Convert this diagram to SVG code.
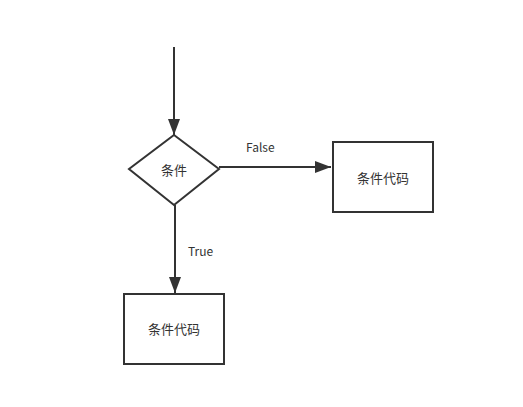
<svg xmlns="http://www.w3.org/2000/svg" width="523" height="407" viewBox="0 0 523 407">
<style>
.shape{fill:#fff;stroke:#333;stroke-width:2}
.edge{fill:none;stroke:#333;stroke-width:2;marker-end:url(#arr)}
text{font-family:"Noto Sans CJK SC","Liberation Sans",sans-serif;font-size:12px;fill:#333}
.c{text-anchor:middle;dominant-baseline:central;font-size:13px}
</style>
<defs>
<marker id="arr" markerWidth="16" markerHeight="12" refX="16" refY="6" orient="auto" markerUnits="userSpaceOnUse" viewBox="0 0 16 12">
<path d="M0,0 L16,6 L0,12 Z" fill="#333"/>
</marker>
</defs>
<rect width="523" height="407" fill="#fff"/>
<g id="connectors">
<path class="edge" d="M174,47 V135"/>
<path class="edge" d="M219,167 H331"/>
<text x="246" y="152">False</text>
<path class="edge" d="M175,205 V293"/>
<text x="188" y="256">True</text>
</g>
<g id="cond">
<path class="shape" d="M174,135 L219,169 L174,205 L129,169 Z"/>
<text class="c" x="174" y="169">条件</text>
</g>
<g id="code-false">
<rect class="shape" x="333" y="142" width="100" height="70"/>
<text class="c" x="383" y="177">条件代码</text>
</g>
<g id="code-true">
<rect class="shape" x="124" y="294" width="100" height="70"/>
<text class="c" x="174" y="328">条件代码</text>
</g>
</svg>
